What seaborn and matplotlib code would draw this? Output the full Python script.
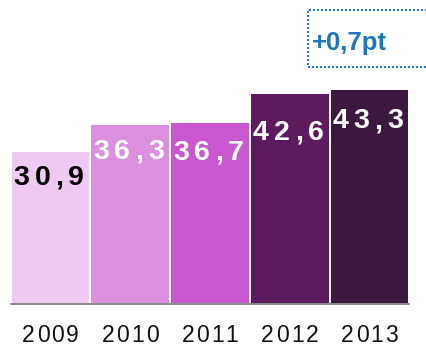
import matplotlib
matplotlib.use("Agg")
import matplotlib.pyplot as plt
import numpy as np
import pandas as pd
import seaborn as sns
from matplotlib.font_manager import FontProperties, findfont
from matplotlib.ft2font import FT2Font
from matplotlib.patches import Rectangle

# Data
years = ["2009", "2010", "2011", "2012", "2013"]
values = [30.9, 36.3, 36.7, 42.6, 43.3]
value_labels = ["30,9", "36,3", "36,7", "42,6", "43,3"]
change_label = "+0,7pt"

# Styling
bar_colors = ["#EEC9F0", "#DC8FDF", "#C958D0", "#5D1A5E", "#3B183E"]
label_colors = ["#000000", "#FFFFFF", "#FFFFFF", "#FFFFFF", "#FFFFFF"]
label_drop_px = [33, 34, 37, 46, 38]   # distance from bar top down to label baseline
accent = "#1E76BE"

W, H, DPI = 427, 347, 100

sns.set_theme(style="white")
plt.rcParams["font.family"] = ["Liberation Sans", "DejaVu Sans"]

fig = plt.figure(figsize=(W / DPI, H / DPI), dpi=DPI)
ax = fig.add_axes([10.6 / W, 42.0 / H, 398.8 / W, 305.0 / H])

df = pd.DataFrame({"year": years, "value": values})
sns.barplot(data=df, x="year", y="value", hue="year", order=years,
            hue_order=years, palette=bar_colors, saturation=1, width=0.975,
            legend=False, edgecolor="none", linewidth=0, ax=ax)
ax.set_xlim(-0.5, 4.5)
ax.set_ylim(0, 61.5)
ax.axis("off")

# grey base line
ax.axhline(0.25, color="#8C8C8C", lw=2 * 72 / DPI, zorder=5, clip_on=False)


def advances(text, prop):
    font = FT2Font(findfont(prop))
    font.set_size(prop.get_size_in_points(), DPI)
    return [font.load_char(ord(c)).linearHoriAdvance / 65536 for c in text]


def tracked_text(ax, text, xy, dy, tracking, prop, color, dx=0.0):
    adv = advances(text, prop)
    total = sum(adv) + tracking * (len(text) - 1)
    x = dx - total / 2
    for ch, a in zip(text, adv):
        ax.annotate(ch, xy=xy, xycoords="data", xytext=(x, dy),
                    textcoords="offset pixels", ha="left", va="baseline",
                    fontproperties=prop, color=color, annotation_clip=False)
        x += a + tracking


value_prop = FontProperties(family="Liberation Sans", weight="bold", size=20.5)
year_prop = FontProperties(family="Liberation Sans", weight="normal", size=16.5)

for i, (v, lab) in enumerate(zip(values, value_labels)):
    tracked_text(ax, lab, (i, v), -label_drop_px[i], 5.0, value_prop,
                 label_colors[i], dx=-1.5)

for i, yr in enumerate(years):
    tracked_text(ax, yr, (i, 0), -36.5, 2.0, year_prop, "#111111")

# dotted call-out box with the change
fig.add_artist(Rectangle((308 / W, (H - 67) / H), 130 / W, 57 / H,
                         transform=fig.transFigure, fill=False,
                         edgecolor=accent, lw=2.0 * 72 / DPI,
                         linestyle=(0, (1, 1)), clip_on=False))
fig.text(312 / W, (H - 50) / H, change_label, ha="left", va="baseline",
         fontsize=18.5, fontweight="bold", color=accent,
         family="Liberation Sans")

fig.savefig("out.png", dpi=DPI)
